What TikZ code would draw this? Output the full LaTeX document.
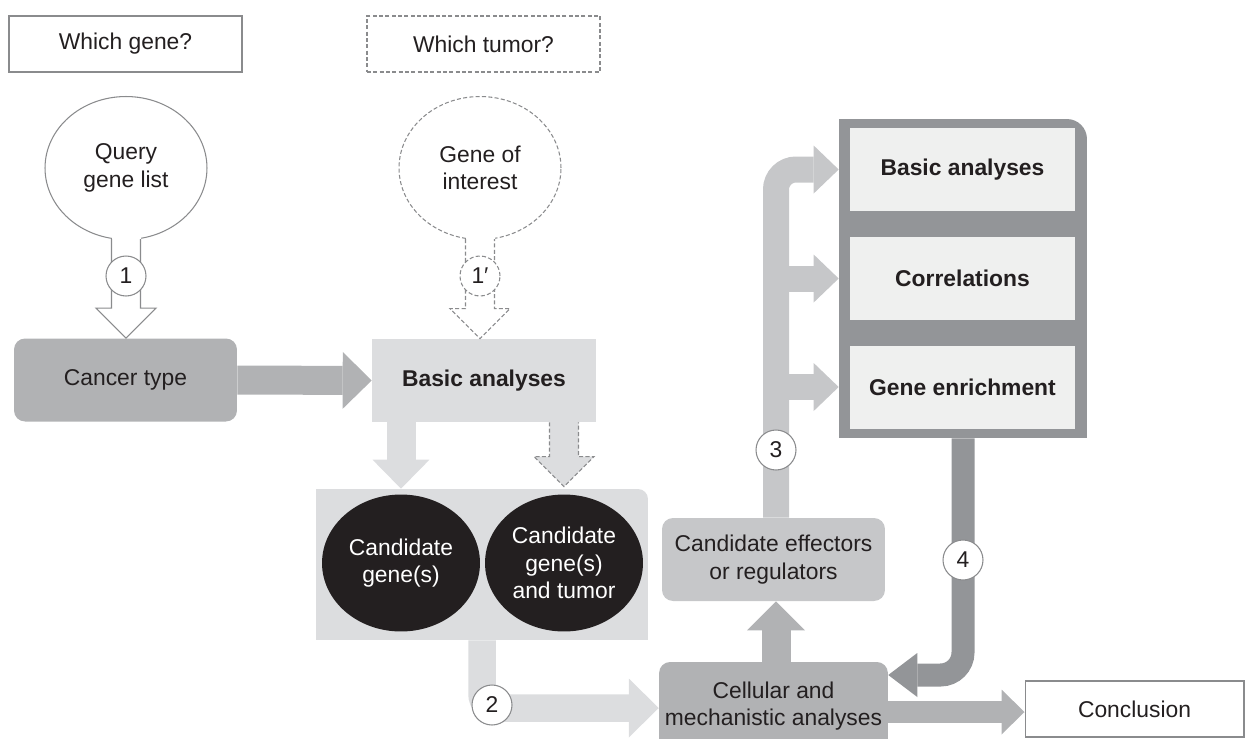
\documentclass[tikz,border=0pt]{standalone}
\usepackage{fontspec}
\setmainfont{Liberation Sans}
\usetikzlibrary{arrows.meta,positioning,shapes.geometric,calc}
\definecolor{slate}{HTML}{939598}
\definecolor{stone}{HTML}{B1B2B4}
\definecolor{mist}{HTML}{C6C7C9}
\definecolor{pale}{HTML}{DCDDDF}
\definecolor{paper}{HTML}{EFF0EF}
\definecolor{ink}{HTML}{231F20}
\definecolor{rim}{HTML}{8A8B8D}
\tikzset{
  txt/.style={font=\fontsize{13}{15.5}\selectfont,text=ink,align=center},
  question/.style={txt,draw=rim,fill=white,line width=0.6pt,minimum width=4.66cm,minimum height=1.12cm},
  balloon/.style={txt,ellipse,draw=rim,fill=white,line width=0.6pt,minimum width=3.24cm,
    minimum height=2.86cm,inner sep=0pt},
  ghost/.style={dash pattern=on 2.3pt off 1.3pt},
  block/.style={txt,fill=#1,rounded corners=0.22cm,minimum width=4.46cm,minimum height=1.66cm},
  block/.default=stone,
  flat/.style={txt,font=\fontsize{13}{15.5}\selectfont\bfseries,fill=#1,minimum width=4.48cm,minimum height=1.66cm},
  flat/.default=pale,
  seed/.style={txt,ellipse,fill=ink,text=white,minimum width=3.16cm,minimum height=2.74cm,inner sep=0pt},
  numtag/.style={txt,circle,draw=rim,fill=white,line width=0.6pt,minimum size=0.8cm,inner sep=0pt},
  hollow/.style={draw=rim,line width=0.6pt,line join=miter},
  % broad grey arrows: colour / shaft / head length / head width
  fat/.style n args={4}{draw=#1,line width=#2,-{Triangle[length=#3,width=#4,line width=0pt]}},
}

\begin{document}
\begin{tikzpicture}[x=0.02cm,y=-0.02cm]
  \useasboundingbox (0,0) rectangle (1245,738);
  \node[question] (wg) at (125.5,44) {Which gene?};
  \node[question,ghost] (wt) at (483.5,44) {Which tumor?};
  \node[balloon] (ql) at (126,168) {Query\\gene list};
  \node[balloon,ghost] (gi) at (480,168) {Gene of\\interest};
  \node[block] (ct) at (125.5,380) {Cancer type};
  \node[flat] (ba) at (484,380.5) {Basic analyses};
  \node[fill=pale,rounded corners=0.2cm,minimum width=6.64cm,minimum height=3.02cm] (cont) at (482,564.5) {};
  \fill[pale] (cont.south west) rectangle ($(cont.north east)+(-12,0)$);
  \fill[pale] (cont.south east) rectangle ($(cont.north west)+(0,12)$);
  \node[seed] (cg1) at (401,563) {Candidate\\gene(s)};
  \node[seed] (cg2) at (564,563) {Candidate\\gene(s)\\and tumor};
  \node[block=mist] (eff) at (773.5,559.5) {Candidate effectors\\or regulators};
  \node[block,minimum height=1.76cm] (cel) at (773.5,706) {Cellular and\\mechanistic analyses};
  \node[question,minimum width=4.38cm] (con) at (1134.5,709) {Conclusion};
  % right-hand panel
  \node[fill=slate,rounded corners=0.4cm,minimum width=4.96cm,minimum height=6.38cm] (panel) at (963,278.5) {};
  \fill[slate] (panel.south west) rectangle ($(panel.north east)+(-22,0)$);
  \fill[slate] (panel.south east) rectangle ($(panel.north west)+(0,22)$);
  \foreach \t/\y [count=\i] in {Basic analyses/169.5,Correlations/278.5,Gene enrichment/387}
    \node[flat=paper,minimum width=4.5cm] (p\i) at (962.5,\y) {\t};

  % outlined arrows
  \coordinate (t1) at ($(ql.south)+(0,-1)$);
  \coordinate (h1) at (ct.north -| t1);
  \coordinate (t2) at ($(gi.south)+(0,-1)$);
  \coordinate (h2) at (ba.north -| t2);
  \coordinate (t3) at (ba.south -| cg2.north);
  \coordinate (h3) at ($(cont.north -| cg2.north)+(0,-2)$);
  \foreach \t/\h/\s/\f in {t1/h1/solid/white,t2/h2/ghost/white,t3/h3/ghost/pale}{
    \fill[\f] ($(\t)+(-14.5,-8)$) rectangle ($(\t)+(14.5,2)$);
    \draw[hollow,\s,fill=\f] ($(\t)+(-14.5,0)$) -- ($(\h)+(-14.5,-30)$) -- ($(\h)+(-30,-30)$) -- (\h)
      -- ($(\h)+(30,-30)$) -- ($(\h)+(14.5,-30)$) -- ($(\t)+(14.5,0)$);
  }

  \draw[fat={stone}{0.58cm}{0.58cm}{1.14cm}] (ct.east) -- (ba.west);
  \draw[fat={pale}{0.58cm}{0.58cm}{1.14cm}] (ba.south -| cg1.north) -- (cont.north -| cg1.north);
  \draw[fat={pale}{0.55cm}{0.6cm}{1.18cm},rounded corners=0.28cm] (cont.south) |- ($(cel.west)+(0,2)$);
  \coordinate (trunk) at ($(eff.north)+(2.5,0)$);
  \draw[fat={stone}{0.58cm}{0.58cm}{1.16cm}] (cel.north -| trunk) -- (eff.south -| trunk);
  \draw[fat={mist}{0.52cm}{0.5cm}{0.96cm},rounded corners=0.4cm] (trunk) |- (panel.west |- p1.west);
  \foreach \p in {p2,p3}
    \draw[fat={mist}{0.52cm}{0.5cm}{0.96cm}] (trunk |- \p.west) -- (panel.west |- \p.west);
  \draw[fat={slate}{0.46cm}{0.58cm}{0.88cm},rounded corners=0.45cm] (panel.south) |- ($(cel.east)+(0,-31)$);
  \draw[fat={stone}{0.44cm}{0.46cm}{0.9cm}] ($(cel.east)+(0,6)$) -- ($(con.west)+(0,3)$);

  \node[numtag] (n1) at (126,276) {1};
  \node[numtag,ghost] (n1p) at (480,276) {1′};
  \node[numtag] (n2) at (492,705) {2};
  \node[numtag] (n3) at (776,450) {3};
  \node[numtag] (n4) at (963,560) {4};
\end{tikzpicture}
\end{document}
